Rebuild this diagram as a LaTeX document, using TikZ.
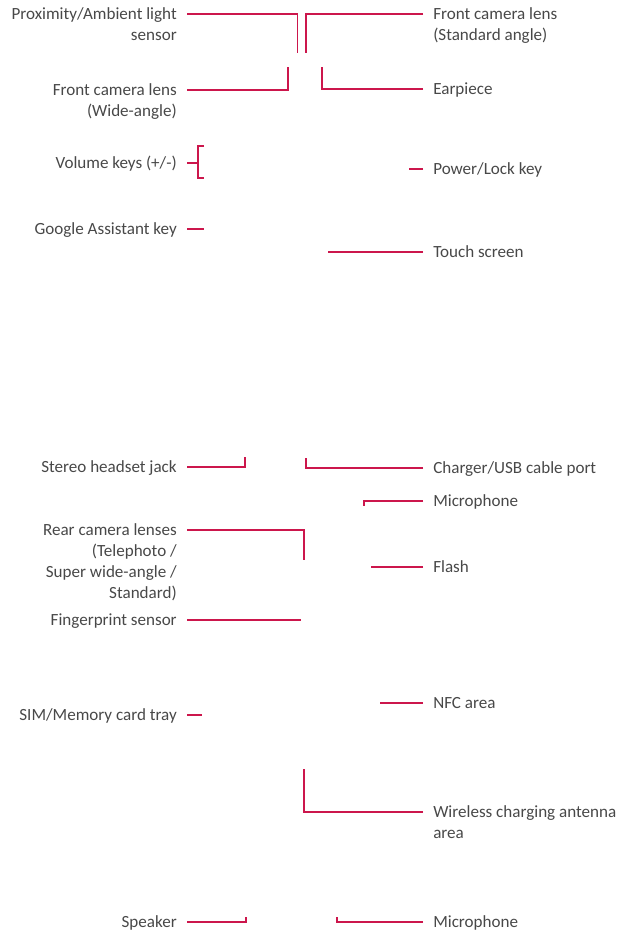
\documentclass[tikz,border=0pt]{standalone}
\usepackage{fontspec}
\setmainfont{Carlito}
\usepackage{xcolor}
\usepackage{tikz}
\usetikzlibrary{calc}
\definecolor{lgred}{RGB}{204,22,76}
\definecolor{txtgray}{RGB}{72,72,72}
\def\dy{6.8pt}
\tikzset{
  lab/.style={font=\fontsize{12.8}{15.75}\selectfont,text=txtgray,inner xsep=7.5pt,inner ysep=0pt,yshift=\dy},
  labl/.style={lab,anchor=north east,align=right},
  labr/.style={lab,anchor=north west,align=left},
  lead/.style={draw=lgred,line width=1pt}
}

\begin{document}
\begin{tikzpicture}[x=0.75pt,y=-0.75pt]
\useasboundingbox (0,0) rectangle (620,931);
% labels left
\node[labl] (prox) at (187,14) {\strut Proximity/Ambient light\\sensor};
\node[labl] (fcw) at (187,90) {\strut Front camera lens\\(Wide-angle)};
\node[labl] (vol) at (187,163) {\strut Volume keys (+/-)};
\node[labl] (gak) at (187,229) {\strut Google Assistant key};
\node[labl] (jack) at (187,467) {\strut Stereo headset jack};
\node[labl] (rear) at (187,530) {\strut Rear camera lenses\\(Telephoto /\\Super wide-angle /\\Standard)};
\node[labl] (fps) at (187,620) {\strut Fingerprint sensor};
\node[labl] (sim) at (187,715) {\strut SIM/Memory card tray};
\node[labl] (spk) at (187,922) {\strut Speaker};
% labels right
\node[labr] (fcs) at (423,14) {\strut Front camera lens\\(Standard angle)};
\node[labr] (ear) at (423,89) {\strut Earpiece};
\node[labr] (pwr) at (423,169) {\strut Power/Lock key};
\node[labr] (tch) at (423,252) {\strut Touch screen};
\node[labr] (usb) at (423,468) {\strut Charger/USB cable port};
\node[labr] (mica) at (423,501) {\strut Microphone};
\node[labr] (fla) at (423,567) {\strut Flash};
\node[labr] (nfc) at (423,703) {\strut NFC area};
\node[labr] (wca) at (423,812) {\strut Wireless charging antenna\\area};
\node[labr] (micb) at (423,922) {\strut Microphone};
% free ends
\coordinate (proxend) at (297.5,53);
\coordinate (fcsend) at (306,53);
\coordinate (fcwend) at (288,67);
\coordinate (earend) at (322,67);
\coordinate (volmid) at (198,163);
\coordinate (pwrend) at (409,169);
\coordinate (gakend) at (204,229);
\coordinate (tchend) at (328,252);
\coordinate (jackend) at (245,457);
\coordinate (usbend) at (306,458);
\coordinate (micaend) at (364,506);
\coordinate (rearend) at (304,560);
\coordinate (flaend) at (371,567);
\coordinate (fpsend) at (301,620);
\coordinate (nfcend) at (380,703);
\coordinate (simend) at (202,715);
\coordinate (wcaend) at (304,769);
\coordinate (spkend) at (246,917);
\coordinate (micbend) at (337,917);
% leaders
\draw[lead] ([yshift=-\dy]prox.north east) -| (proxend);
\draw[lead] ([yshift=-\dy]fcs.north west) -| (fcsend);
\draw[lead] ([yshift=-\dy]fcw.north east) -| (fcwend);
\draw[lead] ([yshift=-\dy]ear.north west) -| (earend);
\draw[lead] ([yshift=-\dy]vol.north east) -- (volmid);
\draw[lead] ($(volmid)+(6,-17)$) -- ($(volmid)+(0,-17)$) -- ($(volmid)+(0,15)$) -- ($(volmid)+(6,15)$);
\draw[lead] ([yshift=-\dy]pwr.north west) -- (pwrend);
\draw[lead] ([yshift=-\dy]gak.north east) -- (gakend);
\draw[lead] ([yshift=-\dy]tch.north west) -- (tchend);
\draw[lead] ([yshift=-\dy]jack.north east) -| (jackend);
\draw[lead] ([yshift=-\dy]usb.north west) -| (usbend);
\draw[lead] ([yshift=-\dy]mica.north west) -| (micaend);
\draw[lead] ([yshift=-\dy]rear.north east) -| (rearend);
\draw[lead] ([yshift=-\dy]fla.north west) -- (flaend);
\draw[lead] ([yshift=-\dy]fps.north east) -- (fpsend);
\draw[lead] ([yshift=-\dy]nfc.north west) -- (nfcend);
\draw[lead] ([yshift=-\dy]sim.north east) -- (simend);
\draw[lead] ([yshift=-\dy]wca.north west) -| (wcaend);
\draw[lead] ([yshift=-\dy]spk.north east) -| (spkend);
\draw[lead] ([yshift=-\dy]micb.north west) -| (micbend);
\end{tikzpicture}
\end{document}
